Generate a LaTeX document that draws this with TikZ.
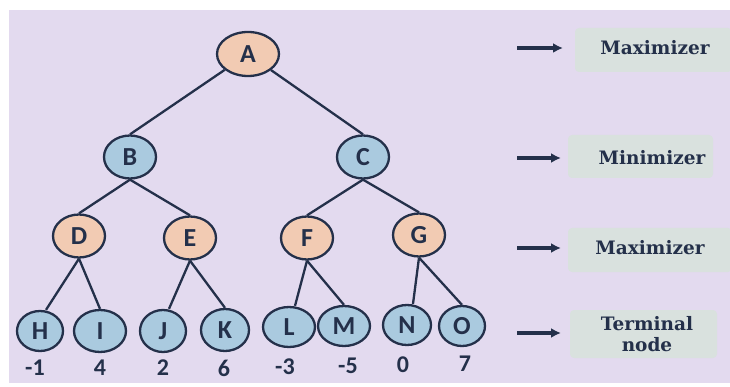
\documentclass[tikz,border=0pt]{standalone}
\usepackage{fontspec}
\setmainfont{DejaVu Serif}
\newfontfamily\nodefont{Carlito}
\usetikzlibrary{shapes.geometric,arrows.meta}
\definecolor{bgpurple}{HTML}{E3DAEF}
\definecolor{maxfill}{HTML}{F2CBB3}
\definecolor{minfill}{HTML}{AACADF}
\definecolor{inkc}{HTML}{24304A}
\definecolor{boxfill}{HTML}{D9E1DE}
\tikzset{
  treenode/.style={ellipse,draw=inkc,line width=2.3pt,inner sep=0pt,
     minimum width=52pt,minimum height=43pt,
     font=\nodefont\bfseries\fontsize{26}{26}\selectfont,text=inkc},
  maxnode/.style={treenode,fill=maxfill},
  minnode/.style={treenode,fill=minfill},
  edge/.style={draw=inkc,line width=2.3pt},
  value/.style={font=\nodefont\bfseries\fontsize{24}{24}\selectfont,text=inkc},
  labelbox/.style={fill=boxfill,rounded corners=4pt,inner sep=0pt},
  labeltext/.style={font=\bfseries\fontsize{18.5}{21}\selectfont,text=inkc,align=center},
  levelarrow/.style={draw=inkc,line width=3.4pt,-{Latex[length=10pt,width=10pt]}}
}
\begin{document}
\begin{tikzpicture}[x=1pt,y=-1pt]
\useasboundingbox (0,0) rectangle (730,387);
\fill[white] (0,0) rectangle (730,387);
\fill[bgpurple] (9,10) rectangle (730,383);
% label boxes
\fill[labelbox] (575,28) rectangle (732,72);
\fill[labelbox] (568,135) rectangle (713,178);
\fill[labelbox] (568,228) rectangle (732,272);
\fill[labelbox] (570,310) rectangle (717,358);
\node[labeltext] (t1) at (655,48) {Maximizer};
\node[labeltext] (t2) at (652,158) {Minimizer};
\node[labeltext] (t3) at (650,248) {Maximizer};
\node[labeltext] (t4) at (647,334) {Terminal\\node};
\coordinate (s1) at (517,48); \coordinate (e1) at (563,48);
\coordinate (s2) at (517,158); \coordinate (e2) at (561,158);
\coordinate (s3) at (517,248); \coordinate (e3) at (561,248);
\coordinate (s4) at (517,333); \coordinate (e4) at (561,333);
\draw[levelarrow] (s1) -- (e1);
\draw[levelarrow] (s2) -- (e2);
\draw[levelarrow] (s3) -- (e3);
\draw[levelarrow] (s4) -- (e4);
% tree
\node[maxnode,minimum width=62pt,minimum height=44pt] (A) at (248,54) {A};
\node[minnode] (B) at (130,157) {B};
\node[minnode] (C) at (363,157) {C};
\node[maxnode] (D) at (79,236) {D};
\node[maxnode] (E) at (190,238) {E};
\node[maxnode] (F) at (307,238) {F};
\node[maxnode] (G) at (419,235) {G};
\node[minnode,minimum width=46pt,minimum height=40pt] (H) at (40,331) {H};
\node[minnode,minimum width=52pt,minimum height=42pt] (I) at (100,331) {I};
\node[minnode,minimum width=46pt,minimum height=42pt] (J) at (163,331) {J};
\node[minnode,minimum width=48pt,minimum height=42pt] (K) at (225,330) {K};
\node[minnode,minimum width=52pt,minimum height=40pt] (L) at (289,327) {L};
\node[minnode,minimum width=52pt,minimum height=40pt] (M) at (344,326) {M};
\node[minnode,minimum width=48pt,minimum height=40pt] (N) at (407,325) {N};
\node[minnode,minimum width=46pt,minimum height=40pt] (O) at (462,326) {O};
\draw[edge] (A) -- (B.north);
\draw[edge] (A) -- (C.north);
\draw[edge] (B.south) -- (D.north);
\draw[edge] (B.south) -- (E.north);
\draw[edge] (C.south) -- (F.north);
\draw[edge] (C.south) -- (G.north);
\draw[edge] (D.south) -- ([xshift=6pt]H.north);
\draw[edge] (D.south) -- (I.north);
\draw[edge] (E.south) -- ([xshift=6pt]J.north);
\draw[edge] (E.south) -- (K.north);
\draw[edge] (F.south) -- ([xshift=6pt]L.north);
\draw[edge] (F.south) -- (M.north);
\draw[edge] (G.south) -- ([xshift=6pt]N.north);
\draw[edge] (G.south) -- (O.north);
% values
\node[value] (vH) at (35,368) {-1};
\node[value] (vI) at (100,368) {4};
\node[value] (vJ) at (163,368) {2};
\node[value] (vK) at (224,368) {6};
\node[value] (vL) at (285,367) {-3};
\node[value] (vM) at (348,366) {-5};
\node[value] (vN) at (403,365) {0};
\node[value] (vO) at (465,364) {7};
\end{tikzpicture}
\end{document}
